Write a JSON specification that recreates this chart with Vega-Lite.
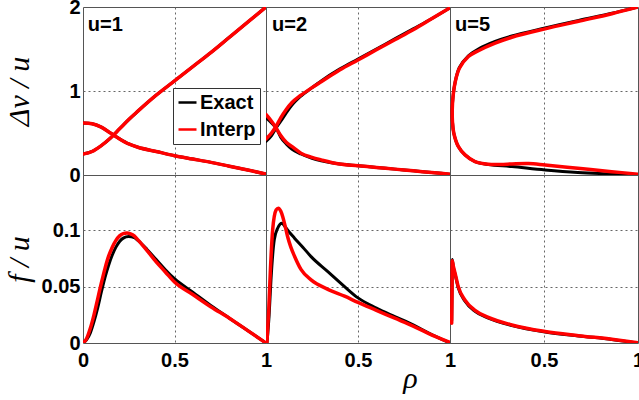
{
"$schema":"https://vega.github.io/schema/vega-lite/v6.json",
"autosize":{"type":"pad"},
"padding":{"left":3,"top":-4,"right":0,"bottom":0},
"background":"white",
"datasets":{"d":[
{"u":1,"q":"d","s":"Exact","b":"a","i":0,"r":0,"v":0.25},{"u":1,"q":"d","s":"Exact","b":"a","i":1,"r":0.05,"v":0.28},{"u":1,"q":"d","s":"Exact","b":"a","i":2,"r":0.1,"v":0.35},{"u":1,"q":"d","s":"Exact","b":"a","i":3,"r":0.15,"v":0.44},{"u":1,"q":"d","s":"Exact","b":"a","i":4,"r":0.2,"v":0.55},{"u":1,"q":"d","s":"Exact","b":"a","i":5,"r":0.25,"v":0.66},{"u":1,"q":"d","s":"Exact","b":"a","i":6,"r":0.3,"v":0.76},{"u":1,"q":"d","s":"Exact","b":"a","i":7,"r":0.4,"v":0.95},{"u":1,"q":"d","s":"Exact","b":"a","i":8,"r":0.5,"v":1.12},{"u":1,"q":"d","s":"Exact","b":"a","i":9,"r":0.6,"v":1.29},{"u":1,"q":"d","s":"Exact","b":"a","i":10,"r":0.7,"v":1.46},{"u":1,"q":"d","s":"Exact","b":"a","i":11,"r":0.8,"v":1.64},{"u":1,"q":"d","s":"Exact","b":"a","i":12,"r":0.9,"v":1.82},{"u":1,"q":"d","s":"Exact","b":"a","i":13,"r":1,"v":2.0},
{"u":1,"q":"d","s":"Exact","b":"b","i":0,"r":0,"v":0.62},{"u":1,"q":"d","s":"Exact","b":"b","i":1,"r":0.05,"v":0.61},{"u":1,"q":"d","s":"Exact","b":"b","i":2,"r":0.1,"v":0.57},{"u":1,"q":"d","s":"Exact","b":"b","i":3,"r":0.15,"v":0.5},{"u":1,"q":"d","s":"Exact","b":"b","i":4,"r":0.2,"v":0.43},{"u":1,"q":"d","s":"Exact","b":"b","i":5,"r":0.25,"v":0.37},{"u":1,"q":"d","s":"Exact","b":"b","i":6,"r":0.3,"v":0.33},{"u":1,"q":"d","s":"Exact","b":"b","i":7,"r":0.4,"v":0.28},{"u":1,"q":"d","s":"Exact","b":"b","i":8,"r":0.5,"v":0.23},{"u":1,"q":"d","s":"Exact","b":"b","i":9,"r":0.6,"v":0.19},{"u":1,"q":"d","s":"Exact","b":"b","i":10,"r":0.7,"v":0.15},{"u":1,"q":"d","s":"Exact","b":"b","i":11,"r":0.8,"v":0.105},{"u":1,"q":"d","s":"Exact","b":"b","i":12,"r":0.9,"v":0.06},{"u":1,"q":"d","s":"Exact","b":"b","i":13,"r":1,"v":0.01},
{"u":1,"q":"d","s":"Interp","b":"a","i":0,"r":0,"v":0.25},{"u":1,"q":"d","s":"Interp","b":"a","i":1,"r":0.05,"v":0.28},{"u":1,"q":"d","s":"Interp","b":"a","i":2,"r":0.1,"v":0.35},{"u":1,"q":"d","s":"Interp","b":"a","i":3,"r":0.15,"v":0.44},{"u":1,"q":"d","s":"Interp","b":"a","i":4,"r":0.2,"v":0.55},{"u":1,"q":"d","s":"Interp","b":"a","i":5,"r":0.25,"v":0.66},{"u":1,"q":"d","s":"Interp","b":"a","i":6,"r":0.3,"v":0.76},{"u":1,"q":"d","s":"Interp","b":"a","i":7,"r":0.4,"v":0.95},{"u":1,"q":"d","s":"Interp","b":"a","i":8,"r":0.5,"v":1.12},{"u":1,"q":"d","s":"Interp","b":"a","i":9,"r":0.6,"v":1.29},{"u":1,"q":"d","s":"Interp","b":"a","i":10,"r":0.7,"v":1.46},{"u":1,"q":"d","s":"Interp","b":"a","i":11,"r":0.8,"v":1.64},{"u":1,"q":"d","s":"Interp","b":"a","i":12,"r":0.9,"v":1.82},{"u":1,"q":"d","s":"Interp","b":"a","i":13,"r":1,"v":2.0},
{"u":1,"q":"d","s":"Interp","b":"b","i":0,"r":0,"v":0.62},{"u":1,"q":"d","s":"Interp","b":"b","i":1,"r":0.05,"v":0.61},{"u":1,"q":"d","s":"Interp","b":"b","i":2,"r":0.1,"v":0.57},{"u":1,"q":"d","s":"Interp","b":"b","i":3,"r":0.15,"v":0.5},{"u":1,"q":"d","s":"Interp","b":"b","i":4,"r":0.2,"v":0.43},{"u":1,"q":"d","s":"Interp","b":"b","i":5,"r":0.25,"v":0.37},{"u":1,"q":"d","s":"Interp","b":"b","i":6,"r":0.3,"v":0.33},{"u":1,"q":"d","s":"Interp","b":"b","i":7,"r":0.4,"v":0.28},{"u":1,"q":"d","s":"Interp","b":"b","i":8,"r":0.5,"v":0.23},{"u":1,"q":"d","s":"Interp","b":"b","i":9,"r":0.6,"v":0.19},{"u":1,"q":"d","s":"Interp","b":"b","i":10,"r":0.7,"v":0.15},{"u":1,"q":"d","s":"Interp","b":"b","i":11,"r":0.8,"v":0.105},{"u":1,"q":"d","s":"Interp","b":"b","i":12,"r":0.9,"v":0.06},{"u":1,"q":"d","s":"Interp","b":"b","i":13,"r":1,"v":0.01},

{"u":2,"q":"d","s":"Exact","b":"a","i":0,"r":0,"v":0.4},{"u":2,"q":"d","s":"Exact","b":"a","i":1,"r":0.03,"v":0.47},{"u":2,"q":"d","s":"Exact","b":"a","i":2,"r":0.055,"v":0.56},{"u":2,"q":"d","s":"Exact","b":"a","i":3,"r":0.08,"v":0.64},{"u":2,"q":"d","s":"Exact","b":"a","i":4,"r":0.11,"v":0.74},{"u":2,"q":"d","s":"Exact","b":"a","i":5,"r":0.14,"v":0.83},{"u":2,"q":"d","s":"Exact","b":"a","i":6,"r":0.19,"v":0.94},{"u":2,"q":"d","s":"Exact","b":"a","i":7,"r":0.25,"v":1.04},{"u":2,"q":"d","s":"Exact","b":"a","i":8,"r":0.3,"v":1.12},{"u":2,"q":"d","s":"Exact","b":"a","i":9,"r":0.4,"v":1.26},{"u":2,"q":"d","s":"Exact","b":"a","i":10,"r":0.5,"v":1.38},{"u":2,"q":"d","s":"Exact","b":"a","i":11,"r":0.6,"v":1.5},{"u":2,"q":"d","s":"Exact","b":"a","i":12,"r":0.7,"v":1.62},{"u":2,"q":"d","s":"Exact","b":"a","i":13,"r":0.8,"v":1.74},{"u":2,"q":"d","s":"Exact","b":"a","i":14,"r":0.9,"v":1.86},{"u":2,"q":"d","s":"Exact","b":"a","i":15,"r":1,"v":1.99},
{"u":2,"q":"d","s":"Exact","b":"b","i":0,"r":0,"v":0.68},{"u":2,"q":"d","s":"Exact","b":"b","i":1,"r":0.03,"v":0.62},{"u":2,"q":"d","s":"Exact","b":"b","i":2,"r":0.055,"v":0.56},{"u":2,"q":"d","s":"Exact","b":"b","i":3,"r":0.08,"v":0.45},{"u":2,"q":"d","s":"Exact","b":"b","i":4,"r":0.11,"v":0.37},{"u":2,"q":"d","s":"Exact","b":"b","i":5,"r":0.14,"v":0.31},{"u":2,"q":"d","s":"Exact","b":"b","i":6,"r":0.19,"v":0.25},{"u":2,"q":"d","s":"Exact","b":"b","i":7,"r":0.25,"v":0.2},{"u":2,"q":"d","s":"Exact","b":"b","i":8,"r":0.3,"v":0.17},{"u":2,"q":"d","s":"Exact","b":"b","i":9,"r":0.4,"v":0.13},{"u":2,"q":"d","s":"Exact","b":"b","i":10,"r":0.5,"v":0.11},{"u":2,"q":"d","s":"Exact","b":"b","i":11,"r":0.6,"v":0.09},{"u":2,"q":"d","s":"Exact","b":"b","i":12,"r":0.7,"v":0.07},{"u":2,"q":"d","s":"Exact","b":"b","i":13,"r":0.8,"v":0.05},{"u":2,"q":"d","s":"Exact","b":"b","i":14,"r":0.9,"v":0.03},{"u":2,"q":"d","s":"Exact","b":"b","i":15,"r":1,"v":0.01},
{"u":2,"q":"d","s":"Interp","b":"a","i":0,"r":0,"v":0.43},{"u":2,"q":"d","s":"Interp","b":"a","i":1,"r":0.03,"v":0.5},{"u":2,"q":"d","s":"Interp","b":"a","i":2,"r":0.055,"v":0.58},{"u":2,"q":"d","s":"Interp","b":"a","i":3,"r":0.08,"v":0.68},{"u":2,"q":"d","s":"Interp","b":"a","i":4,"r":0.11,"v":0.78},{"u":2,"q":"d","s":"Interp","b":"a","i":5,"r":0.14,"v":0.86},{"u":2,"q":"d","s":"Interp","b":"a","i":6,"r":0.19,"v":0.95},{"u":2,"q":"d","s":"Interp","b":"a","i":7,"r":0.25,"v":1.04},{"u":2,"q":"d","s":"Interp","b":"a","i":8,"r":0.3,"v":1.11},{"u":2,"q":"d","s":"Interp","b":"a","i":9,"r":0.4,"v":1.25},{"u":2,"q":"d","s":"Interp","b":"a","i":10,"r":0.5,"v":1.37},{"u":2,"q":"d","s":"Interp","b":"a","i":11,"r":0.6,"v":1.49},{"u":2,"q":"d","s":"Interp","b":"a","i":12,"r":0.7,"v":1.61},{"u":2,"q":"d","s":"Interp","b":"a","i":13,"r":0.8,"v":1.73},{"u":2,"q":"d","s":"Interp","b":"a","i":14,"r":0.9,"v":1.86},{"u":2,"q":"d","s":"Interp","b":"a","i":15,"r":1,"v":1.99},
{"u":2,"q":"d","s":"Interp","b":"b","i":0,"r":0,"v":0.72},{"u":2,"q":"d","s":"Interp","b":"b","i":1,"r":0.03,"v":0.64},{"u":2,"q":"d","s":"Interp","b":"b","i":2,"r":0.055,"v":0.56},{"u":2,"q":"d","s":"Interp","b":"b","i":3,"r":0.08,"v":0.47},{"u":2,"q":"d","s":"Interp","b":"b","i":4,"r":0.11,"v":0.39},{"u":2,"q":"d","s":"Interp","b":"b","i":5,"r":0.14,"v":0.34},{"u":2,"q":"d","s":"Interp","b":"b","i":6,"r":0.19,"v":0.26},{"u":2,"q":"d","s":"Interp","b":"b","i":7,"r":0.25,"v":0.21},{"u":2,"q":"d","s":"Interp","b":"b","i":8,"r":0.3,"v":0.18},{"u":2,"q":"d","s":"Interp","b":"b","i":9,"r":0.4,"v":0.13},{"u":2,"q":"d","s":"Interp","b":"b","i":10,"r":0.5,"v":0.11},{"u":2,"q":"d","s":"Interp","b":"b","i":11,"r":0.6,"v":0.09},{"u":2,"q":"d","s":"Interp","b":"b","i":12,"r":0.7,"v":0.07},{"u":2,"q":"d","s":"Interp","b":"b","i":13,"r":0.8,"v":0.05},{"u":2,"q":"d","s":"Interp","b":"b","i":14,"r":0.9,"v":0.03},{"u":2,"q":"d","s":"Interp","b":"b","i":15,"r":1,"v":0.01},

{"u":5,"q":"d","s":"Exact","b":"a","i":0,"r":1,"v":0.0},{"u":5,"q":"d","s":"Exact","b":"a","i":1,"r":0.86,"v":0.012},{"u":5,"q":"d","s":"Exact","b":"a","i":2,"r":0.68,"v":0.03},{"u":5,"q":"d","s":"Exact","b":"a","i":3,"r":0.506,"v":0.06},{"u":5,"q":"d","s":"Exact","b":"a","i":4,"r":0.33,"v":0.1},{"u":5,"q":"d","s":"Exact","b":"a","i":5,"r":0.204,"v":0.125},{"u":5,"q":"d","s":"Exact","b":"a","i":6,"r":0.133,"v":0.16},{"u":5,"q":"d","s":"Exact","b":"a","i":7,"r":0.08,"v":0.24},{"u":5,"q":"d","s":"Exact","b":"a","i":8,"r":0.044,"v":0.34},{"u":5,"q":"d","s":"Exact","b":"a","i":9,"r":0.02,"v":0.5},{"u":5,"q":"d","s":"Exact","b":"a","i":10,"r":0.013,"v":0.64},{"u":5,"q":"d","s":"Exact","b":"a","i":11,"r":0.012,"v":0.78},{"u":5,"q":"d","s":"Exact","b":"a","i":12,"r":0.016,"v":0.93},{"u":5,"q":"d","s":"Exact","b":"a","i":13,"r":0.027,"v":1.1},{"u":5,"q":"d","s":"Exact","b":"a","i":14,"r":0.05,"v":1.28},{"u":5,"q":"d","s":"Exact","b":"a","i":15,"r":0.098,"v":1.42},{"u":5,"q":"d","s":"Exact","b":"a","i":16,"r":0.151,"v":1.5},{"u":5,"q":"d","s":"Exact","b":"a","i":17,"r":0.24,"v":1.59},{"u":5,"q":"d","s":"Exact","b":"a","i":18,"r":0.329,"v":1.655},{"u":5,"q":"d","s":"Exact","b":"a","i":19,"r":0.506,"v":1.75},{"u":5,"q":"d","s":"Exact","b":"a","i":20,"r":0.684,"v":1.84},{"u":5,"q":"d","s":"Exact","b":"a","i":21,"r":0.861,"v":1.925},{"u":5,"q":"d","s":"Exact","b":"a","i":22,"r":1,"v":2.0},
{"u":5,"q":"d","s":"Interp","b":"a","i":0,"r":1,"v":0.01},{"u":5,"q":"d","s":"Interp","b":"a","i":1,"r":0.86,"v":0.04},{"u":5,"q":"d","s":"Interp","b":"a","i":2,"r":0.68,"v":0.08},{"u":5,"q":"d","s":"Interp","b":"a","i":3,"r":0.506,"v":0.12},{"u":5,"q":"d","s":"Interp","b":"a","i":4,"r":0.417,"v":0.137},{"u":5,"q":"d","s":"Interp","b":"a","i":5,"r":0.33,"v":0.132},{"u":5,"q":"d","s":"Interp","b":"a","i":6,"r":0.27,"v":0.126},{"u":5,"q":"d","s":"Interp","b":"a","i":7,"r":0.204,"v":0.128},{"u":5,"q":"d","s":"Interp","b":"a","i":8,"r":0.133,"v":0.16},{"u":5,"q":"d","s":"Interp","b":"a","i":9,"r":0.08,"v":0.24},{"u":5,"q":"d","s":"Interp","b":"a","i":10,"r":0.044,"v":0.34},{"u":5,"q":"d","s":"Interp","b":"a","i":11,"r":0.02,"v":0.5},{"u":5,"q":"d","s":"Interp","b":"a","i":12,"r":0.013,"v":0.64},{"u":5,"q":"d","s":"Interp","b":"a","i":13,"r":0.012,"v":0.78},{"u":5,"q":"d","s":"Interp","b":"a","i":14,"r":0.016,"v":0.93},{"u":5,"q":"d","s":"Interp","b":"a","i":15,"r":0.027,"v":1.1},{"u":5,"q":"d","s":"Interp","b":"a","i":16,"r":0.05,"v":1.27},{"u":5,"q":"d","s":"Interp","b":"a","i":17,"r":0.098,"v":1.41},{"u":5,"q":"d","s":"Interp","b":"a","i":18,"r":0.151,"v":1.48},{"u":5,"q":"d","s":"Interp","b":"a","i":19,"r":0.24,"v":1.57},{"u":5,"q":"d","s":"Interp","b":"a","i":20,"r":0.329,"v":1.64},{"u":5,"q":"d","s":"Interp","b":"a","i":21,"r":0.506,"v":1.74},{"u":5,"q":"d","s":"Interp","b":"a","i":22,"r":0.684,"v":1.83},{"u":5,"q":"d","s":"Interp","b":"a","i":23,"r":0.861,"v":1.92},{"u":5,"q":"d","s":"Interp","b":"a","i":24,"r":1,"v":2.0},

{"u":1,"q":"f","s":"Exact","b":"a","i":0,"r":0,"v":0},{"u":1,"q":"f","s":"Exact","b":"a","i":1,"r":0.02,"v":0.003},{"u":1,"q":"f","s":"Exact","b":"a","i":2,"r":0.04,"v":0.009},{"u":1,"q":"f","s":"Exact","b":"a","i":3,"r":0.06,"v":0.019},{"u":1,"q":"f","s":"Exact","b":"a","i":4,"r":0.08,"v":0.031},{"u":1,"q":"f","s":"Exact","b":"a","i":5,"r":0.1,"v":0.045},{"u":1,"q":"f","s":"Exact","b":"a","i":6,"r":0.12,"v":0.058},{"u":1,"q":"f","s":"Exact","b":"a","i":7,"r":0.14,"v":0.069},{"u":1,"q":"f","s":"Exact","b":"a","i":8,"r":0.16,"v":0.078},{"u":1,"q":"f","s":"Exact","b":"a","i":9,"r":0.18,"v":0.085},{"u":1,"q":"f","s":"Exact","b":"a","i":10,"r":0.2,"v":0.09},{"u":1,"q":"f","s":"Exact","b":"a","i":11,"r":0.22,"v":0.093},{"u":1,"q":"f","s":"Exact","b":"a","i":12,"r":0.25,"v":0.0945},{"u":1,"q":"f","s":"Exact","b":"a","i":13,"r":0.28,"v":0.0935},{"u":1,"q":"f","s":"Exact","b":"a","i":14,"r":0.3,"v":0.091},{"u":1,"q":"f","s":"Exact","b":"a","i":15,"r":0.35,"v":0.083},{"u":1,"q":"f","s":"Exact","b":"a","i":16,"r":0.4,"v":0.074},{"u":1,"q":"f","s":"Exact","b":"a","i":17,"r":0.45,"v":0.065},{"u":1,"q":"f","s":"Exact","b":"a","i":18,"r":0.5,"v":0.057},{"u":1,"q":"f","s":"Exact","b":"a","i":19,"r":0.6,"v":0.045},{"u":1,"q":"f","s":"Exact","b":"a","i":20,"r":0.7,"v":0.033},{"u":1,"q":"f","s":"Exact","b":"a","i":21,"r":0.8,"v":0.022},{"u":1,"q":"f","s":"Exact","b":"a","i":22,"r":0.9,"v":0.011},{"u":1,"q":"f","s":"Exact","b":"a","i":23,"r":1,"v":0},
{"u":1,"q":"f","s":"Interp","b":"a","i":0,"r":0,"v":0},{"u":1,"q":"f","s":"Interp","b":"a","i":1,"r":0.02,"v":0.004},{"u":1,"q":"f","s":"Interp","b":"a","i":2,"r":0.04,"v":0.013},{"u":1,"q":"f","s":"Interp","b":"a","i":3,"r":0.06,"v":0.025},{"u":1,"q":"f","s":"Interp","b":"a","i":4,"r":0.08,"v":0.039},{"u":1,"q":"f","s":"Interp","b":"a","i":5,"r":0.1,"v":0.053},{"u":1,"q":"f","s":"Interp","b":"a","i":6,"r":0.12,"v":0.066},{"u":1,"q":"f","s":"Interp","b":"a","i":7,"r":0.14,"v":0.077},{"u":1,"q":"f","s":"Interp","b":"a","i":8,"r":0.16,"v":0.085},{"u":1,"q":"f","s":"Interp","b":"a","i":9,"r":0.18,"v":0.091},{"u":1,"q":"f","s":"Interp","b":"a","i":10,"r":0.2,"v":0.095},{"u":1,"q":"f","s":"Interp","b":"a","i":11,"r":0.22,"v":0.097},{"u":1,"q":"f","s":"Interp","b":"a","i":12,"r":0.24,"v":0.0975},{"u":1,"q":"f","s":"Interp","b":"a","i":13,"r":0.26,"v":0.0968},{"u":1,"q":"f","s":"Interp","b":"a","i":14,"r":0.28,"v":0.095},{"u":1,"q":"f","s":"Interp","b":"a","i":15,"r":0.3,"v":0.0915},{"u":1,"q":"f","s":"Interp","b":"a","i":16,"r":0.35,"v":0.082},{"u":1,"q":"f","s":"Interp","b":"a","i":17,"r":0.4,"v":0.072},{"u":1,"q":"f","s":"Interp","b":"a","i":18,"r":0.45,"v":0.063},{"u":1,"q":"f","s":"Interp","b":"a","i":19,"r":0.5,"v":0.054},{"u":1,"q":"f","s":"Interp","b":"a","i":20,"r":0.6,"v":0.043},{"u":1,"q":"f","s":"Interp","b":"a","i":21,"r":0.7,"v":0.032},{"u":1,"q":"f","s":"Interp","b":"a","i":22,"r":0.8,"v":0.022},{"u":1,"q":"f","s":"Interp","b":"a","i":23,"r":0.9,"v":0.011},{"u":1,"q":"f","s":"Interp","b":"a","i":24,"r":1,"v":0},

{"u":2,"q":"f","s":"Exact","b":"a","i":0,"r":0.005,"v":0},{"u":2,"q":"f","s":"Exact","b":"a","i":1,"r":0.017,"v":0.025},{"u":2,"q":"f","s":"Exact","b":"a","i":2,"r":0.027,"v":0.056},{"u":2,"q":"f","s":"Exact","b":"a","i":3,"r":0.045,"v":0.0915},{"u":2,"q":"f","s":"Exact","b":"a","i":4,"r":0.064,"v":0.102},{"u":2,"q":"f","s":"Exact","b":"a","i":5,"r":0.086,"v":0.1063},{"u":2,"q":"f","s":"Exact","b":"a","i":6,"r":0.1,"v":0.104},{"u":2,"q":"f","s":"Exact","b":"a","i":7,"r":0.118,"v":0.1},{"u":2,"q":"f","s":"Exact","b":"a","i":8,"r":0.155,"v":0.093},{"u":2,"q":"f","s":"Exact","b":"a","i":9,"r":0.2,"v":0.085},{"u":2,"q":"f","s":"Exact","b":"a","i":10,"r":0.245,"v":0.0766},{"u":2,"q":"f","s":"Exact","b":"a","i":11,"r":0.336,"v":0.0633},{"u":2,"q":"f","s":"Exact","b":"a","i":12,"r":0.427,"v":0.05},{"u":2,"q":"f","s":"Exact","b":"a","i":13,"r":0.5,"v":0.04},{"u":2,"q":"f","s":"Exact","b":"a","i":14,"r":0.6,"v":0.031},{"u":2,"q":"f","s":"Exact","b":"a","i":15,"r":0.7,"v":0.0234},{"u":2,"q":"f","s":"Exact","b":"a","i":16,"r":0.8,"v":0.016},{"u":2,"q":"f","s":"Exact","b":"a","i":17,"r":0.882,"v":0.009},{"u":2,"q":"f","s":"Exact","b":"a","i":18,"r":1,"v":0},
{"u":2,"q":"f","s":"Interp","b":"a","i":0,"r":0.005,"v":0},{"u":2,"q":"f","s":"Interp","b":"a","i":1,"r":0.015,"v":0.03},{"u":2,"q":"f","s":"Interp","b":"a","i":2,"r":0.024,"v":0.065},{"u":2,"q":"f","s":"Interp","b":"a","i":3,"r":0.036,"v":0.1},{"u":2,"q":"f","s":"Interp","b":"a","i":4,"r":0.055,"v":0.118},{"u":2,"q":"f","s":"Interp","b":"a","i":5,"r":0.067,"v":0.1196},{"u":2,"q":"f","s":"Interp","b":"a","i":6,"r":0.08,"v":0.117},{"u":2,"q":"f","s":"Interp","b":"a","i":7,"r":0.091,"v":0.112},{"u":2,"q":"f","s":"Interp","b":"a","i":8,"r":0.105,"v":0.103},{"u":2,"q":"f","s":"Interp","b":"a","i":9,"r":0.118,"v":0.094},{"u":2,"q":"f","s":"Interp","b":"a","i":10,"r":0.135,"v":0.085},{"u":2,"q":"f","s":"Interp","b":"a","i":11,"r":0.155,"v":0.077},{"u":2,"q":"f","s":"Interp","b":"a","i":12,"r":0.191,"v":0.065},{"u":2,"q":"f","s":"Interp","b":"a","i":13,"r":0.245,"v":0.056},{"u":2,"q":"f","s":"Interp","b":"a","i":14,"r":0.336,"v":0.0476},{"u":2,"q":"f","s":"Interp","b":"a","i":15,"r":0.427,"v":0.0415},{"u":2,"q":"f","s":"Interp","b":"a","i":16,"r":0.5,"v":0.036},{"u":2,"q":"f","s":"Interp","b":"a","i":17,"r":0.6,"v":0.029},{"u":2,"q":"f","s":"Interp","b":"a","i":18,"r":0.7,"v":0.022},{"u":2,"q":"f","s":"Interp","b":"a","i":19,"r":0.8,"v":0.015},{"u":2,"q":"f","s":"Interp","b":"a","i":20,"r":0.882,"v":0.0086},{"u":2,"q":"f","s":"Interp","b":"a","i":21,"r":1,"v":0.0005},

{"u":5,"q":"f","s":"Exact","b":"a","i":0,"r":0.009,"v":0.02},{"u":5,"q":"f","s":"Exact","b":"a","i":1,"r":0.011,"v":0.05},{"u":5,"q":"f","s":"Exact","b":"a","i":2,"r":0.012,"v":0.074},{"u":5,"q":"f","s":"Exact","b":"a","i":3,"r":0.018,"v":0.067},{"u":5,"q":"f","s":"Exact","b":"a","i":4,"r":0.027,"v":0.061},{"u":5,"q":"f","s":"Exact","b":"a","i":5,"r":0.044,"v":0.049},{"u":5,"q":"f","s":"Exact","b":"a","i":6,"r":0.08,"v":0.037},{"u":5,"q":"f","s":"Exact","b":"a","i":7,"r":0.133,"v":0.028},{"u":5,"q":"f","s":"Exact","b":"a","i":8,"r":0.204,"v":0.022},{"u":5,"q":"f","s":"Exact","b":"a","i":9,"r":0.329,"v":0.0155},{"u":5,"q":"f","s":"Exact","b":"a","i":10,"r":0.506,"v":0.0098},{"u":5,"q":"f","s":"Exact","b":"a","i":11,"r":0.684,"v":0.0063},{"u":5,"q":"f","s":"Exact","b":"a","i":12,"r":0.861,"v":0.0032},{"u":5,"q":"f","s":"Exact","b":"a","i":13,"r":1,"v":0},
{"u":5,"q":"f","s":"Interp","b":"a","i":0,"r":0.009,"v":0.0175},{"u":5,"q":"f","s":"Interp","b":"a","i":1,"r":0.011,"v":0.05},{"u":5,"q":"f","s":"Interp","b":"a","i":2,"r":0.012,"v":0.073},{"u":5,"q":"f","s":"Interp","b":"a","i":3,"r":0.018,"v":0.068},{"u":5,"q":"f","s":"Interp","b":"a","i":4,"r":0.027,"v":0.062},{"u":5,"q":"f","s":"Interp","b":"a","i":5,"r":0.044,"v":0.05},{"u":5,"q":"f","s":"Interp","b":"a","i":6,"r":0.08,"v":0.038},{"u":5,"q":"f","s":"Interp","b":"a","i":7,"r":0.133,"v":0.029},{"u":5,"q":"f","s":"Interp","b":"a","i":8,"r":0.204,"v":0.0228},{"u":5,"q":"f","s":"Interp","b":"a","i":9,"r":0.329,"v":0.016},{"u":5,"q":"f","s":"Interp","b":"a","i":10,"r":0.506,"v":0.0102},{"u":5,"q":"f","s":"Interp","b":"a","i":11,"r":0.684,"v":0.0065},{"u":5,"q":"f","s":"Interp","b":"a","i":12,"r":0.861,"v":0.0033},{"u":5,"q":"f","s":"Interp","b":"a","i":13,"r":1,"v":0.0003}
],
"lab":[{"u":1,"t":"u=1"},{"u":2,"t":"u=2"},{"u":5,"t":"u=5"}]},
"columns":3,
"spacing":0,
"bounds":"flush",
"resolve":{"scale":{"color":"independent","x":"independent","y":"independent"},"legend":{"color":"independent"}},
"concat":[
{"width":183,"height":168,
 "layer":[
  {"data":{"name":"d"},"transform":[{"filter":"datum.u == 1 && datum.q == 'd' && datum.s == 'Exact'"}],"mark":{"type":"line","strokeWidth":3,"clip":true,"interpolate":"monotone"},
   "encoding":{
    "x":{"field":"r","type":"quantitative","scale":{"domain":[0,1],"nice":false},"axis":{"values":[0.5],"labels":false,"title":null}},
    "y":{"field":"v","type":"quantitative","scale":{"domain":[0,2],"nice":false},"axis":{"values":[0,1,2],"format":"~g","title":"Δν / u","gridOpacity":{"condition":{"test":"datum.value == 1","value":1},"value":0}}},
    "color":{"field":"s","type":"nominal","scale":{"domain":["Exact","Interp"],"range":["black","red"]},"legend":{"orient":"none","legendX":90,"legendY":81,"title":null,"symbolType":"stroke","symbolSize":324,"symbolStrokeWidth":2.5,"labelFont":"Liberation Sans","labelFontSize":20,"labelFontWeight":"bold","labelColor":"black","strokeColor":"#333","fillColor":"white","padding":4,"rowPadding":6,"labelOffset":2}},
    "detail":{"field":"b"},"order":{"field":"i","type":"quantitative"}}},
  {"data":{"name":"d"},"transform":[{"filter":"datum.u == 1 && datum.q == 'd' && datum.s == 'Interp'"}],"mark":{"type":"line","strokeWidth":3.5,"clip":true,"interpolate":"monotone"},
   "encoding":{"x":{"field":"r","type":"quantitative"},"y":{"field":"v","type":"quantitative"},"color":{"field":"s","type":"nominal"},"detail":{"field":"b"},"order":{"field":"i","type":"quantitative"}}},
  {"data":{"name":"lab"},"transform":[{"filter":"datum.u == 1"}],"mark":{"type":"text","align":"left","baseline":"alphabetic","font":"Liberation Sans","fontSize":20,"fontWeight":"bold","fill":"black"},
   "encoding":{"x":{"datum":0.026,"type":"quantitative"},"y":{"datum":1.71,"type":"quantitative"},"text":{"field":"t"}}}
 ]},
{"width":184,"height":168,
 "layer":[
  {"data":{"name":"d"},"transform":[{"filter":"datum.u == 2 && datum.q == 'd' && datum.s == 'Exact'"}],"mark":{"type":"line","strokeWidth":3,"clip":true,"interpolate":"monotone"},
   "encoding":{
    "x":{"field":"r","type":"quantitative","scale":{"domain":[0,1],"nice":false},"axis":{"values":[0.5],"labels":false,"title":null}},
    "y":{"field":"v","type":"quantitative","scale":{"domain":[0,2],"nice":false},"axis":{"values":[1],"labels":false,"title":null}},
    "color":{"field":"s","type":"nominal","scale":{"domain":["Exact","Interp"],"range":["black","red"]},"legend":null},
    "detail":{"field":"b"},"order":{"field":"i","type":"quantitative"}}},
  {"data":{"name":"d"},"transform":[{"filter":"datum.u == 2 && datum.q == 'd' && datum.s == 'Interp'"}],"mark":{"type":"line","strokeWidth":3.5,"clip":true,"interpolate":"monotone"},
   "encoding":{"x":{"field":"r","type":"quantitative"},"y":{"field":"v","type":"quantitative"},"color":{"field":"s","type":"nominal"},"detail":{"field":"b"},"order":{"field":"i","type":"quantitative"}}},
  {"data":{"name":"lab"},"transform":[{"filter":"datum.u == 2"}],"mark":{"type":"text","align":"left","baseline":"alphabetic","font":"Liberation Sans","fontSize":20,"fontWeight":"bold","fill":"black"},
   "encoding":{"x":{"datum":0.033,"type":"quantitative"},"y":{"datum":1.71,"type":"quantitative"},"text":{"field":"t"}}}
 ]},
{"width":188,"height":168,
 "layer":[
  {"data":{"name":"d"},"transform":[{"filter":"datum.u == 5 && datum.q == 'd' && datum.s == 'Exact'"}],"mark":{"type":"line","strokeWidth":3,"clip":true,"interpolate":"catmull-rom"},
   "encoding":{
    "x":{"field":"r","type":"quantitative","scale":{"domain":[0,1],"nice":false},"axis":{"values":[0.5],"labels":false,"title":null}},
    "y":{"field":"v","type":"quantitative","scale":{"domain":[0,2],"nice":false},"axis":{"values":[1],"labels":false,"title":null}},
    "color":{"field":"s","type":"nominal","scale":{"domain":["Exact","Interp"],"range":["black","red"]},"legend":null},
    "detail":{"field":"b"},"order":{"field":"i","type":"quantitative"}}},
  {"data":{"name":"d"},"transform":[{"filter":"datum.u == 5 && datum.q == 'd' && datum.s == 'Interp'"}],"mark":{"type":"line","strokeWidth":3.5,"clip":true,"interpolate":"catmull-rom"},
   "encoding":{"x":{"field":"r","type":"quantitative"},"y":{"field":"v","type":"quantitative"},"color":{"field":"s","type":"nominal"},"detail":{"field":"b"},"order":{"field":"i","type":"quantitative"}}},
  {"data":{"name":"lab"},"transform":[{"filter":"datum.u == 5"}],"mark":{"type":"text","align":"left","baseline":"alphabetic","font":"Liberation Sans","fontSize":20,"fontWeight":"bold","fill":"black"},
   "encoding":{"x":{"datum":0.027,"type":"quantitative"},"y":{"datum":1.71,"type":"quantitative"},"text":{"field":"t"}}}
 ]},
{"width":183,"height":168,"data":{"name":"d"},
 "transform":[{"filter":"datum.u == 1 && datum.q == 'f'"}],
 "encoding":{
  "x":{"field":"r","type":"quantitative","scale":{"domain":[0,1],"nice":false},"axis":{"values":[0,0.5,1],"format":"~g","title":null,"labelPadding":7,"gridOpacity":{"condition":{"test":"datum.value == 0.5","value":1},"value":0}}},
  "y":{"field":"v","type":"quantitative","scale":{"domain":[0,0.149],"nice":false},"axis":{"values":[0,0.05,0.1],"format":"~g","title":"f / u","gridOpacity":{"condition":{"test":"datum.value > 0","value":1},"value":0}}},
  "color":{"field":"s","type":"nominal","scale":{"domain":["Exact","Interp"],"range":["black","red"]},"legend":null},
  "order":{"field":"i","type":"quantitative"}},
 "layer":[
  {"transform":[{"filter":"datum.s == 'Exact'"}],"mark":{"type":"line","strokeWidth":3,"clip":true,"interpolate":"monotone"}},
  {"transform":[{"filter":"datum.s == 'Interp'"}],"mark":{"type":"line","strokeWidth":3.5,"clip":true,"interpolate":"monotone"}}
 ]},
{"width":184,"height":168,"data":{"name":"d"},
 "transform":[{"filter":"datum.u == 2 && datum.q == 'f'"}],
 "encoding":{
  "x":{"field":"r","type":"quantitative","scale":{"domain":[0,1],"nice":false},"axis":{"values":[0.5,1],"format":"~g","title":"ρ","labelPadding":7,"titleX":144,"titleY":44,"titleBaseline":"alphabetic","gridOpacity":{"condition":{"test":"datum.value == 0.5","value":1},"value":0}}},
  "y":{"field":"v","type":"quantitative","scale":{"domain":[0,0.149],"nice":false},"axis":{"values":[0.05,0.1],"labels":false,"title":null}},
  "color":{"field":"s","type":"nominal","scale":{"domain":["Exact","Interp"],"range":["black","red"]},"legend":null},
  "order":{"field":"i","type":"quantitative"}},
 "layer":[
  {"transform":[{"filter":"datum.s == 'Exact'"}],"mark":{"type":"line","strokeWidth":3,"clip":true,"interpolate":"monotone"}},
  {"transform":[{"filter":"datum.s == 'Interp'"}],"mark":{"type":"line","strokeWidth":3.5,"clip":true,"interpolate":"monotone"}}
 ]},
{"width":188,"height":168,"data":{"name":"d"},
 "transform":[{"filter":"datum.u == 5 && datum.q == 'f'"}],
 "encoding":{
  "x":{"field":"r","type":"quantitative","scale":{"domain":[0,1],"nice":false},"axis":{"values":[0.5,1],"format":"~g","title":null,"labelPadding":7,"gridOpacity":{"condition":{"test":"datum.value == 0.5","value":1},"value":0}}},
  "y":{"field":"v","type":"quantitative","scale":{"domain":[0,0.149],"nice":false},"axis":{"values":[0.05,0.1],"labels":false,"title":null}},
  "color":{"field":"s","type":"nominal","scale":{"domain":["Exact","Interp"],"range":["black","red"]},"legend":null},
  "order":{"field":"i","type":"quantitative"}},
 "layer":[
  {"transform":[{"filter":"datum.s == 'Exact'"}],"mark":{"type":"line","strokeWidth":3,"clip":true,"interpolate":"monotone"}},
  {"transform":[{"filter":"datum.s == 'Interp'"}],"mark":{"type":"line","strokeWidth":3.5,"clip":true,"interpolate":"monotone"}}
 ]}
],
"config":{
 "view":{"stroke":"#555","strokeWidth":1},
 "axis":{"labelFont":"Liberation Sans","labelFontSize":20,"labelFontWeight":"bold","labelColor":"black","ticks":false,"domain":false,"grid":true,"gridColor":"#666","gridDash":[2,3],"gridWidth":1,"labelFlush":false,"labelOverlap":false,"labelPadding":3,"titleFont":"Liberation Serif","titleFontStyle":"italic","titleFontWeight":"normal","titleFontSize":30,"titleColor":"black"},
 "axisY":{"titleX":-55,"titleBaseline":"alphabetic"},
 "line":{"strokeCap":"round","strokeJoin":"round"}
}
}
